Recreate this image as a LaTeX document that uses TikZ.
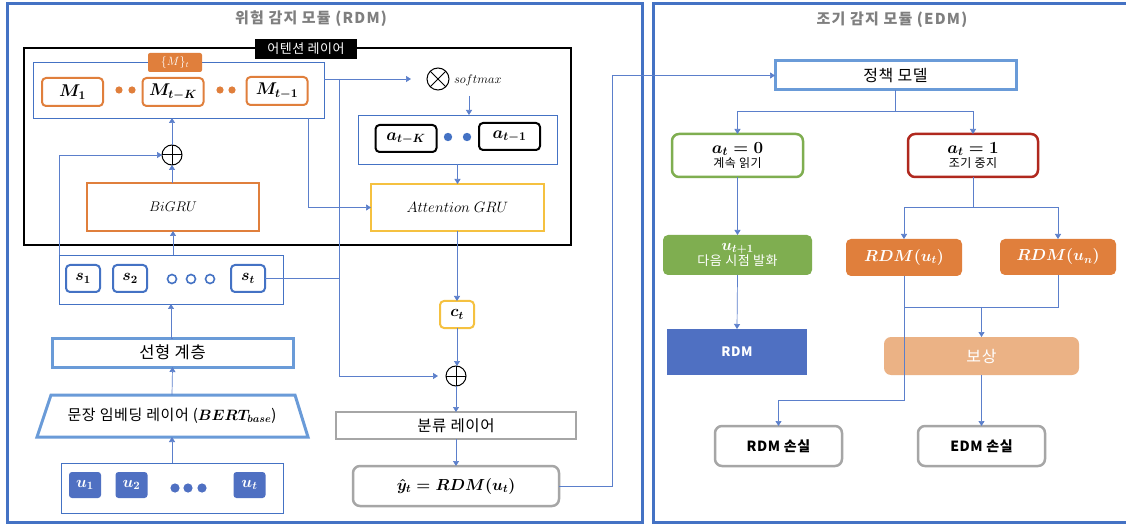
\RequirePackage{fix-cm}
\documentclass[tikz,border=0pt]{standalone}
\usepackage{fontspec}
\setmainfont{Noto Sans CJK KR}[LetterSpace=4]
\usetikzlibrary{arrows.meta,calc}
\definecolor{frameblue}{HTML}{4472C4}
\definecolor{lineblue}{HTML}{5B7FCB}
\definecolor{lightblue}{HTML}{6A9BD8}
\definecolor{orng}{HTML}{E07F3C}
\definecolor{lightorng}{HTML}{EBB285}
\definecolor{yel}{HTML}{F5C140}
\definecolor{gry}{HTML}{A6A6A6}
\definecolor{grn}{HTML}{7FAE50}
\definecolor{dred}{HTML}{B0281E}
\definecolor{ublue}{HTML}{4F70C2}
\definecolor{titlegray}{HTML}{7F7F7F}
\tikzset{
  arr/.style={draw=lineblue, line width=0.7, -{Triangle[width=6pt,length=5pt]}},
  ln/.style={draw=lineblue, line width=0.7},
  fs/.style={font=\fontsize{#1}{#1}\selectfont\boldmath},
  fsn/.style={font=\fontsize{#1}{#1}\selectfont},
  titletext/.style={text=titlegray, font=\fontsize{15}{16}\selectfont\bfseries\addfontfeatures{LetterSpace=8}},
  mbox/.style={draw=orng, line width=2, rounded corners=4, minimum width=61, minimum height=28, fs=17},
  sbx/.style={draw=frameblue, line width=2, rounded corners=4, minimum width=34, minimum height=27, fs=16},
  ubx/.style={fill=ublue, rounded corners=3, minimum width=32, minimum height=26, text=white, fs=16},
  abx/.style={draw=black, line width=2, rounded corners=4, minimum width=61, minimum height=27, fs=17},
  thinbox/.style={draw=frameblue, line width=0.8},
  opl/.style={circle, draw, line width=1, minimum size=20,
    path picture={\draw[line width=1] (path picture bounding box.center) +(-12,0) -- +(12,0) +(0,-12) -- +(0,12);}},
  otm/.style={circle, draw, line width=1, minimum size=22,
    path picture={\draw[line width=1] (path picture bounding box.center) +(-12,-12) -- +(12,12) +(-12,12) -- +(12,-12);}},
}
\begin{document}
\begin{tikzpicture}[x=1pt,y=-1pt, every node/.style={inner sep=0pt, outer sep=0pt}]
\useasboundingbox (0,0) rectangle (1126,526);
\fill[white] (0,0) rectangle (1126,526);

% frames
\draw[frameblue, line width=3] (7,4) rectangle (642,522);
\draw[frameblue, line width=3] (653,4) rectangle (1140,522);
\node[titletext] (rdmtitle) at (311,19) {위험 감지 모듈 (RDM)};
\node[titletext] (edmtitle) at (892,20) {조기 감지 모듈 (EDM)};

% attention layer
\node[draw=black, line width=1.5, minimum width=547, minimum height=197] (att) at (297.5,146.5) {};
\node[fill=black, text=white, minimum width=102, minimum height=20, fs=13] (attlbl) at (306,49) {어텐션 레이어};

% memory
\node[thinbox, minimum width=291, minimum height=56] (mem) at (178.5,90) {};
\node[fill=orng, rounded corners=2, minimum width=54, minimum height=19, text=white, fsn=12] (memlbl) at (175,62.5) {$\{M\}_t$};
\node[mbox] (m1) at (72.5,92) {$M_1$};
\node[mbox] (mtk) at (173,92) {$M_{t-K}$};
\node[mbox] (mt1) at (277,91) {$M_{t-1}$};
\fill[orng] (119,90) circle (3.6pt) (132,90) circle (3.6pt) (220,90) circle (3.6pt) (232,90) circle (3.6pt);

\node[opl] (op1) at (172,155) {};
\node[draw=orng, line width=2.5, minimum width=172, minimum height=48, fsn=14] (bigru) at (173,207) {$BiGRU$};

% softmax / attention
\node[otm] (otm) at (438,79) {};
\node[anchor=west, fsn=12.5] (smx) at (454,80) {$softmax$};
\node[thinbox, minimum width=199, minimum height=49] (abox) at (457.5,139.5) {};
\node[abx] (ak) at (406,138.5) {$a_{t-K}$};
\node[abx] (a1) at (509.5,136.5) {$a_{t-1}$};
\fill[frameblue] (448,137) circle (4.2pt) (467,137) circle (4.2pt);
\node[draw=yel, line width=2.5, minimum width=173, minimum height=47, fsn=15] (agru) at (457.5,207.5) {$Attention\ GRU$};

\node[draw=yel, line width=2, rounded corners=4, minimum width=34, minimum height=27, fs=16] (ct) at (457,314.5) {$c_t$};
\node[opl] (op2) at (456,376) {};
\node[draw=gry, line width=2.5, minimum width=240, minimum height=27, fs=15.5] (cls) at (456,425.5) {분류 레이어};
\node[draw=gry, line width=2.5, rounded corners=7, minimum width=206, minimum height=40, fs=16] (yhat) at (456,486) {$\hat{y}_t = RDM(u_t)$};

% sentence encoder
\node[thinbox, minimum width=224, minimum height=49] (sbox) at (171,279.5) {};
\node[sbx] (s1) at (83,278.5) {$s_1$};
\node[sbx] (s2) at (130,278.5) {$s_2$};
\node[sbx] (st) at (248,278.5) {$s_t$};
\draw[frameblue, line width=1.6] (172,279) circle (4.5pt) (191,279) circle (4.5pt) (210,279) circle (4.5pt);

\node[draw=lightblue, line width=3, minimum width=241, minimum height=29, fs=16.5] (lin) at (172.5,352.5) {선형 계층};
\draw[lightblue, line width=3, line join=miter] (51,395) -- (295,395) -- (308,437) -- (37,437) -- cycle;
\node[fs=15] (emb) at (172,416) {문장 임베딩 레이어 ($BERT_{base}$)};
\coordinate (embT) at (172,395);
\coordinate (embB) at (172,437);

\node[thinbox, minimum width=222, minimum height=50] (ubox) at (172,488) {};
\node[ubx] (u1) at (85,485) {$u_1$};
\node[ubx] (u2) at (131.5,485) {$u_2$};
\node[ubx] (ut) at (249.5,485) {$u_t$};
\fill[ublue] (175,488) circle (4.6pt) (188,488) circle (4.6pt) (202,488) circle (4.6pt);

% left connectors
\draw[arr] (ubox.north) -- (embB);
\draw[arr] (embT) -- (lin.south);
\draw[arr] (lin.north) -- (sbox.north |- lin.north) -- (sbox.south);
\draw[arr] (sbox.north -| bigru.south) -- (bigru.south);
\draw[arr] (bigru.north -| op1.south) -- (op1.south);
\draw[arr] (op1.north) -- (op1.north |- mem.south);
\draw[arr] (sbox.north west) |- (op1.west);
\coordinate (vx) at (339,79);
\draw[arr, shorten >=16pt] (vx -| mem.east) -- (otm.west);
\draw[ln] (vx) -- (vx |- st.east);
\draw[arr, shorten >=8pt] (st.east) -- (st.east -| vx) |- (op2.west);
\draw[arr] ([xshift=130]mem.south) |- (agru.west);
\draw[arr] ([xshift=11.5]abox.north) ++(0,-19) -- ([xshift=11.5]abox.north);
\draw[arr] (abox.south) -- (agru.north);
\draw[arr] (agru.south -| ct.north) -- (ct.north);
\draw[arr] (ct.south) -- (ct.south |- op2.north);
\draw[arr] (op2.south) -- (op2.south |- cls.north);
\draw[arr] (cls.south) -- (yhat.north);

% right side
\node[draw=lightblue, line width=3, minimum width=241, minimum height=29, fs=16] (policy) at (895.5,75.5) {정책 모델};
\draw[arr] (yhat.east) -- (612,486) |- (policy.west);

\node[draw=grn, line width=2.5, rounded corners=7, minimum width=131, minimum height=43, align=center] (a0) at (737.5,155.5) {{\fontsize{17}{17}\selectfont\boldmath $a_t=0$}\\[1pt]{\fontsize{12}{12}\selectfont 계속 읽기}};
\node[draw=dred, line width=2.5, rounded corners=7, minimum width=130, minimum height=43, align=center] (a1r) at (973,155.5) {{\fontsize{17}{17}\selectfont\boldmath $a_t=1$}\\[1pt]{\fontsize{12}{12}\selectfont 조기 중지}};
\node[fill=grn, rounded corners=5, minimum width=149, minimum height=40, text=white, align=center] (unext) at (737.5,255) {{\fontsize{16}{12}\selectfont\boldmath $u_{t+1}$}\\{\fontsize{13}{13}\selectfont 다음 시점 발화}};
\node[fill=orng, rounded corners=5, minimum width=116, minimum height=37, text=white, fs=16] (rut) at (904,257.5) {$RDM(u_t)$};
\node[fill=orng, rounded corners=5, minimum width=116, minimum height=36, text=white, fs=16] (run) at (1058,257) {$RDM(u_n)$};
\node[fill=ublue, minimum width=140, minimum height=46, text=white, fs=13] (rdmb) at (737,352) {\bfseries RDM};
\node[fill=lightorng, rounded corners=7, minimum width=195, minimum height=38, text=white, fs=16] (rew) at (981.5,356) {보상};
\node[draw=gry, line width=2.5, rounded corners=7, minimum width=127, minimum height=40, fs=14] (rdml) at (778.5,446) {\bfseries RDM 손실};
\node[draw=gry, line width=2.5, rounded corners=7, minimum width=127, minimum height=40, fs=14] (edml) at (981.5,446) {\bfseries EDM 손실};

\draw[ln] (policy.south) -- ++(0,21) coordinate (pj);
\draw[arr] (pj) -| (a0.north);
\draw[arr] (pj) -| (a1r.north);
\draw[ln] (a1r.south) -- ++(0,30) coordinate (qj);
\draw[arr] (qj) -| (rut.north);
\draw[arr] (qj) -| (run.north);
\draw[arr] (a0.south) -- (unext.north);
\draw[arr] (unext.south) -- (rdmb.north);
\draw[arr] (rut.south) -- ++(0,124) -| (rdml.north);
\draw[ln] (rut.south) ++(0,31) coordinate (rj) -- (rj -| run.south) -- (run.south);
\draw[arr] (rj -| rew.north) -- (rew.north);
\draw[arr] (rew.south) -- (edml.north);
\end{tikzpicture}
\end{document}
